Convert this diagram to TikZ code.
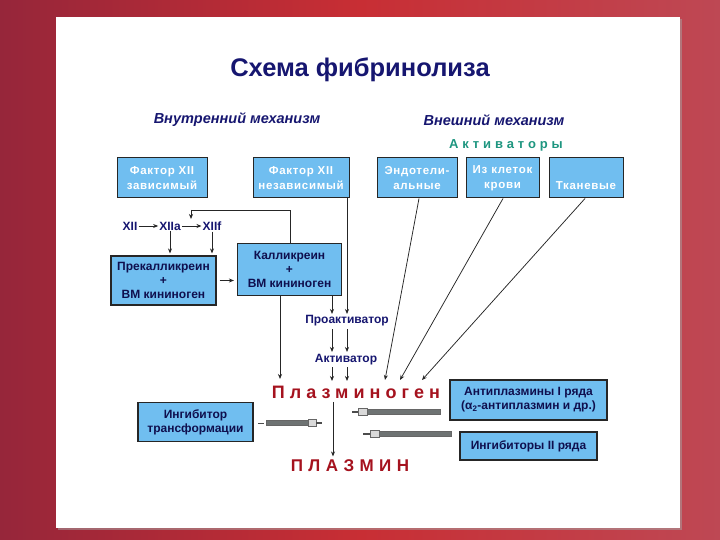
\documentclass[tikz,border=0pt]{standalone}
\usepackage{fontspec}
\setmainfont{Liberation Sans}
\usetikzlibrary{arrows.meta}
\definecolor{frameA}{RGB}{150,38,58}
\definecolor{frameB}{RGB}{200,46,52}
\definecolor{frameC}{RGB}{190,72,84}
\definecolor{navy}{RGB}{22,22,112}
\definecolor{boxblue}{RGB}{112,190,240}
\definecolor{tealtxt}{RGB}{30,150,128}
\definecolor{plred}{RGB}{165,18,30}
\definecolor{rodgray}{RGB}{110,115,115}
\tikzset{
  boxbase/.style={draw=black!85, line width=1pt, fill=boxblue, align=center, inner sep=0pt},
  topbox/.style={boxbase, text=white, font=\bfseries\fontsize{11.5}{14.5}\selectfont\addfontfeature{LetterSpace=6}},
  midbox/.style={boxbase, line width=1.2pt, text=navy!70!black, font=\bfseries\fontsize{12}{14}\selectfont},
  navytxt/.style={text=navy, font=\bfseries\fontsize{12}{14}\selectfont, inner sep=1pt},
  conn/.style={draw=black!85, line width=0.75pt},
  arr/.style={conn, -{Stealth[length=5pt,width=4pt]}},
}
\begin{document}
\begin{tikzpicture}[x=1pt,y=-1pt]
\useasboundingbox (0,0) rectangle (720,540);
% frame
\shade[left color=frameA, right color=frameC, middle color=frameB] (0,0) rectangle (720,540);
\fill[black!35, opacity=0.5] (58,19) rectangle (682,530);
\fill[white] (56,17) rectangle (680,528);

% headings
\node (title) at (360,70) {\textcolor{navy}{\bfseries\fontsize{25.5}{28}\selectfont Схема фибринолиза}};
\node (intm) at (237,120) {\textcolor{navy}{\bfseries\itshape\fontsize{14.5}{16}\selectfont Внутренний механизм}};
\node (extm) at (494,120) {\textcolor{navy}{\bfseries\itshape\fontsize{14.5}{16}\selectfont Внешний механизм}};
\node (act) at (506,145) {\textcolor{tealtxt}{\bfseries\fontsize{13}{15}\selectfont\addfontfeature{LetterSpace=30}Активаторы}};

% top boxes
\node[topbox, minimum width=90pt, minimum height=40pt] (f12d) at (162,178) {Фактор XII\\зависимый};
\node[topbox, minimum width=96pt, minimum height=40pt] (f12i) at (301,178) {Фактор XII\\независимый};
\node[topbox, minimum width=80pt, minimum height=40pt] (endo) at (417,178) {Эндотели-\\альные};
\node[topbox, minimum width=73pt, minimum height=40pt] (blood) at (502.5,178) {Из клеток\\крови};
\node[topbox, minimum width=74pt, minimum height=40pt] (tiss) at (586,178) {\vphantom{Х}\\Тканевые};

% XII chain
\node[navytxt] (x12) at (130,226) {XII};
\node[navytxt] (x12a) at (170,226) {XIIa};
\node[navytxt] (x12f) at (212,226) {XIIf};
\draw[arr] (x12) -- (x12a);
\draw[arr] (x12a) -- (x12f);

% middle boxes
\node[midbox, minimum width=105pt, minimum height=49pt] (prek) at (163.5,280.5) {Прекалликреин\\+\\ВМ кининоген};
\node[midbox, minimum width=104pt, minimum height=52pt] (kall) at (289.5,269.5) {Калликреин\\+\\ВМ кининоген};

\draw[arr, shorten >=2pt] (x12a.south) -- (x12a.south |- prek.north);
\draw[arr, shorten >=2pt] (x12f.south) -- (x12f.south |- prek.north);
\draw[arr, shorten <=3pt, shorten >=3pt] (prek.east) -- (kall.west |- prek.east);

% feedback
\coordinate (fbA) at (290,210);
\coordinate (fbB) at (191,210);
\coordinate (fbC) at (191,219);
\draw[conn] (kall.north -| fbA) -- (fbA) -- (fbB);
\draw[arr] (fbB) -- (fbC);

% proactivator / activator
\node[navytxt] (proact) at (347,321) {Проактиватор};
\node[navytxt] (activ) at (346,360) {Активатор};
\node (plg) at (356,392) {\textcolor{plred}{\bfseries\fontsize{18}{20}\selectfont\addfontfeature{LetterSpace=28}Плазминоген}};
\node (plm) at (350,466) {\textcolor{plred}{\bfseries\fontsize{17}{20}\selectfont\addfontfeature{LetterSpace=32}ПЛАЗМИН}};

\draw[arr] (f12i.south -| 347,0) -- (347,314);
\draw[arr] (kall.south -| 332,0) -- (332,314);
\draw[arr] (332,329) -- (332,352);
\draw[arr] (347,329) -- (347,352);
\draw[arr] (332,367) -- (332,381);
\draw[arr] (347,367) -- (347,381);
\coordinate (kdown) at (280,379);
\draw[arr] (kall.south -| kdown) -- (kdown);

% diagonal activators
\coordinate (d1) at (385,380);
\coordinate (d2) at (400,380);
\coordinate (d3) at (422,380);
\draw[arr] (endo.south -| 419,0) -- (d1);
\draw[arr] (blood.south -| 503,0) -- (d2);
\draw[arr] (tiss.south -| 585,0) -- (d3);

% plasminogen -> plasmin
\draw[arr] (plg.south -| 333,0) -- (plm.north -| 333,0);

% inhibitor boxes
\node[midbox, minimum width=115pt, minimum height=39pt] (inhtr) at (195.5,422) {Ингибитор\\трансформации};
\node[midbox, minimum width=157pt, minimum height=40pt] (antip) at (528.5,400) {Антиплазмины I ряда\\(α\textsubscript{2}-антиплазмин и др.)};
\node[midbox, minimum width=137pt, minimum height=28pt] (inh2) at (528.5,446) {Ингибиторы II ряда};

% rods (inhibition symbols)
% rod 1, tip right
\draw[black!70, line width=0.8pt] (258,423) -- (264,423);
\fill[rodgray, draw=black!60, line width=0.4pt] (266,420.5) rectangle (308,425.5);
\fill[black!15, draw=black!60, line width=0.4pt] (308,419.5) rectangle (316,426.5);
\draw[black!70, line width=1.2pt] (316,423) -- (322,423);
% rod 2, tip left
\draw[black!70, line width=1.2pt] (352,412) -- (358,412);
\fill[black!15, draw=black!60, line width=0.4pt] (358,408.5) rectangle (367,415.5);
\fill[rodgray, draw=black!60, line width=0.4pt] (367,409.5) rectangle (440,414.5);
% rod 3, tip left
\draw[black!70, line width=1.2pt] (363,434) -- (370,434);
\fill[black!15, draw=black!60, line width=0.4pt] (370,430.5) rectangle (379,437.5);
\fill[rodgray, draw=black!60, line width=0.4pt] (379,431.5) rectangle (451,436.5);
\end{tikzpicture}
\end{document}
